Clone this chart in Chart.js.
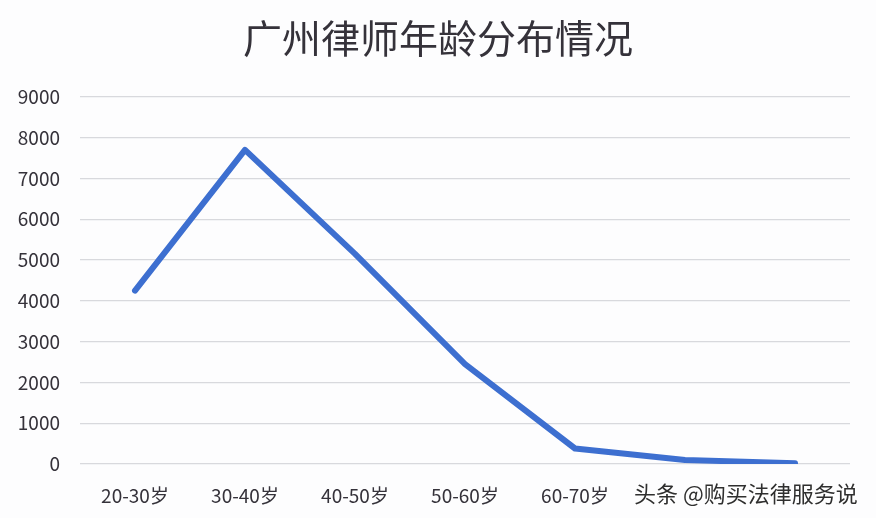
<!DOCTYPE html>
<html lang="zh">
<head>
    <meta charset="UTF-8">
    <title>广州律师年龄分布情况</title>
    <script src="https://cdn.jsdelivr.net/npm/chart.js"></script>
    <style>
        body { margin: 0; background: #fff; }
        .wrap { position: relative; width: 876px; height: 518px; background: #fdfdfe; }
        .mark { position: absolute; left: 634px; top: 476px; font-family: "Noto Sans CJK SC", sans-serif; font-size: 22px; color: #2f2f2f;
                text-shadow: 0 0 2px #fff, 0 0 3px #fff, 1px 1px 2px #fff; white-space: nowrap; }
    </style>
</head>
<body>
<div class="wrap">
    <canvas id="ageChart" width="876" height="518"></canvas>
    <div class="mark">头条 @购买法律服务说</div>
</div>
<script>
    const titleText = '广州律师年龄分布情况';
    const ageGroups = ['20-30岁', '30-40岁', '40-50岁', '50-60岁', '60-70岁', '70-80岁', '80岁以上'];
    const lawyerCounts = [4250, 7700, 5150, 2450, 380, 100, 20];
    const yMax = 9000;
    const yStep = 1000;

    const ctx = document.getElementById('ageChart').getContext('2d');
    const ageChart = new Chart(ctx, {
        type: 'line',
        data: {
            labels: ageGroups,
            datasets: [{
                data: lawyerCounts,
                borderColor: '#3d6fd0',
                borderWidth: 6,
                borderJoinStyle: 'round',
                borderCapStyle: 'round',
                pointRadius: 0,
                tension: 0,
                fill: false
            }]
        },
        options: {
            responsive: false,
            animation: false,
            layout: { padding: 0 },
            plugins: {
                legend: { display: false },
                tooltip: { enabled: false },
                title: {
                    display: true,
                    text: titleText,
                    color: '#35323a',
                    font: { family: '"Noto Sans CJK SC", sans-serif', size: 39, weight: 'normal' },
                    padding: { top: 15, bottom: 35 }
                }
            },
            scales: {
                x: {
                    offset: true,
                    grid: { display: false },
                    border: { display: false },
                    ticks: {
                        color: '#35323a',
                        padding: 12,
                        maxRotation: 0,
                        font: { family: '"Noto Sans CJK SC", sans-serif', size: 19 },
                        // the last two labels sit under the watermark
                        callback: (v, i) => i < 5 ? ageGroups[i] : ''
                    },
                    afterFit: s => { s.height = 54; }
                },
                y: {
                    min: 0,
                    max: yMax,
                    grid: { color: '#d8d9dd', lineWidth: 1.2, drawTicks: false },
                    border: { display: false },
                    ticks: {
                        stepSize: yStep,
                        color: '#35323a',
                        padding: 20,
                        font: { family: '"Noto Sans CJK SC", sans-serif', size: 19 },
                        callback: v => String(v)
                    },
                    afterFit: s => { s.width = 80; }
                },
                // empty right-hand margin so the title stays centred on the page
                yRight: {
                    position: 'right',
                    min: 0,
                    max: yMax,
                    grid: { display: false },
                    border: { display: false },
                    ticks: { display: false },
                    afterFit: s => { s.width = 26; }
                }
            }
        }
    });
</script>
</body>
</html>
